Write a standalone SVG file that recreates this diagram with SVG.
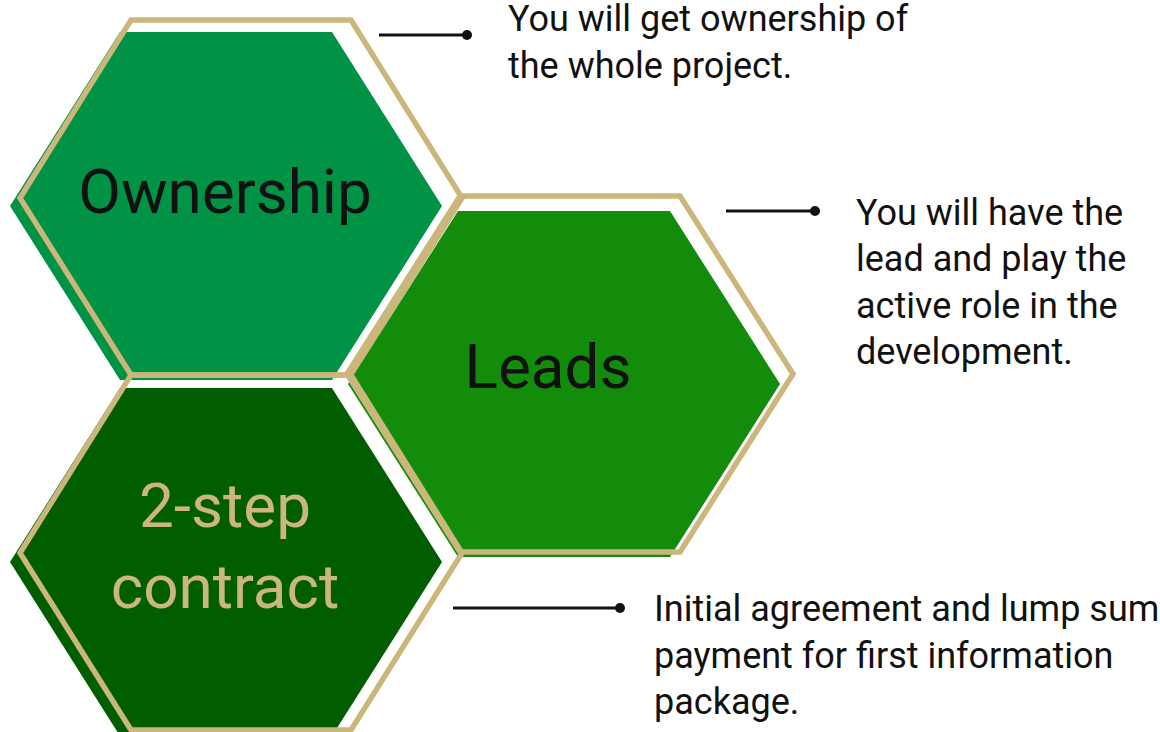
<svg xmlns="http://www.w3.org/2000/svg" width="1160" height="732" viewBox="0 0 1160 732">
  <style>
    .gold { fill: none; stroke: #cbb67b; stroke-width: 5.5; stroke-linejoin: miter; }
    .lbl { font-family: Roboto, "Liberation Sans", sans-serif; font-size: 62px; text-anchor: middle; }
    .desc { font-family: Roboto, "Liberation Sans", sans-serif; font-size: 36px; fill: #111; }
    .conn { stroke: #111; stroke-width: 3; fill: none; }
  </style>
  <rect width="1160" height="732" fill="#fff"/>
  <g id="node-ownership">
    <polygon points="10,206 120,32 332,32 442,206 332,380 120,380" fill="#009245"/>
    <polygon class="gold" points="20,198 131,20 351,20 462,198 351,375 131,375"/>
    <text class="lbl" x="225" y="213" fill="#111">Ownership</text>
  </g>
  <g id="node-leads">
    <polygon points="348,384 458,211 670,211 780,384 670,557 458,557" fill="#138b0b"/>
    <polygon class="gold" points="347,374 460,196 680,196 793,374 680,552 460,552"/>
    <text class="lbl" x="548" y="388" fill="#111">Leads</text>
  </g>
  <g id="node-contract">
    <polygon points="10,562 120,388 332,388 442,562 332,736 120,736" fill="#005e00"/>
    <polygon class="gold" points="20,553 131,375 351,375 462,553 351,730 131,730"/>
    <text class="lbl" x="225" y="527" fill="#cbb67b">2-step</text>
    <text class="lbl" x="225" y="608" fill="#cbb67b">contract</text>
  </g>
  <g id="connectors">
    <line class="conn" x1="379" y1="35" x2="467" y2="35"/>
    <circle cx="467" cy="35" r="5" fill="#111"/>
    <line class="conn" x1="726" y1="211" x2="815" y2="211"/>
    <circle cx="815" cy="211" r="5" fill="#111"/>
    <line class="conn" x1="453" y1="608" x2="620" y2="608"/>
    <circle cx="620" cy="608" r="5" fill="#111"/>
  </g>
  <g id="text-ownership">
    <text class="desc" x="508" y="31">You will get ownership of</text>
    <text class="desc" x="508" y="78">the whole project.</text>
  </g>
  <g id="text-leads">
    <text class="desc" x="856" y="225">You will have the</text>
    <text class="desc" x="856" y="271">lead and play the</text>
    <text class="desc" x="856" y="318">active role in the</text>
    <text class="desc" x="856" y="364">development.</text>
  </g>
  <g id="text-contract">
    <text class="desc" x="654" y="621">Initial agreement and lump sum</text>
    <text class="desc" x="654" y="668">payment for first information</text>
    <text class="desc" x="654" y="714">package.</text>
  </g>
</svg>
